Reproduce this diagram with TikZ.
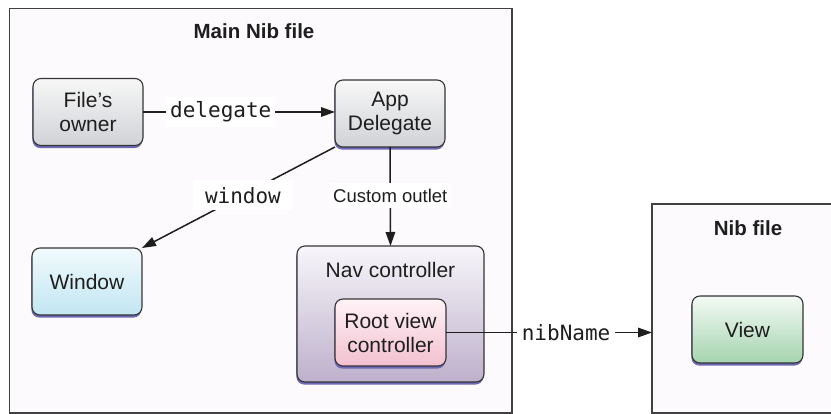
\documentclass[tikz,border=0pt]{standalone}
\usepackage{fontspec}
\setmainfont{Liberation Sans}
\newfontfamily\monof{DejaVu Sans Mono}
\usetikzlibrary{arrows.meta,shadows}
\definecolor{framefill}{HTML}{FCFAFC}
\definecolor{framedraw}{HTML}{404040}
\definecolor{bordc}{HTML}{353535}
\definecolor{txtc}{HTML}{1E1E1E}
\definecolor{shadc}{HTML}{6C68B5}
\definecolor{grayT}{HTML}{F7F7F7}
\definecolor{grayB}{HTML}{D0D2D6}
\definecolor{winT}{HTML}{F1FAFD}
\definecolor{winB}{HTML}{C2E6F2}
\definecolor{navT}{HTML}{F7F6FA}
\definecolor{navB}{HTML}{BEB0CC}
\definecolor{rootT}{HTML}{FEF3F6}
\definecolor{rootB}{HTML}{F3C0D0}
\definecolor{viewT}{HTML}{F3FAF4}
\definecolor{viewB}{HTML}{A5D4AF}
\begin{document}
\begin{tikzpicture}[x=1pt,y=-1pt,
  frame/.style={draw=framedraw, line width=1.4pt, fill=framefill, outer sep=0pt, inner sep=0pt},
  obj/.style={draw=bordc, line width=1.1pt, rounded corners=8pt, outer sep=0pt,
    minimum width=110pt, minimum height=67pt, align=center, text=txtc,
    font=\fontsize{21}{24}\selectfont,
    general shadow={fill=shadc, shadow xshift=-0.6pt, shadow yshift=-2.6pt}},
  title/.style={font=\bfseries\fontsize{20.5}{24}\selectfont, text=txtc},
  plain/.style={font=\fontsize{21}{24}\selectfont, text=txtc},
  conn/.style={line width=1.5pt, draw=txtc, -{Triangle[length=14pt,width=9.5pt]}},
  monolab/.style={fill=white, text=txtc, font=\monof\fontsize{21}{24}\selectfont, inner xsep=4pt, inner ysep=5pt},
  sanslab/.style={fill=white, text=txtc, font=\fontsize{18.5}{22}\selectfont, inner xsep=4pt, inner ysep=6pt}
]
\fill[white] (0,0) rectangle (831,414);
\useasboundingbox (0,0) rectangle (831,414);

% frames
\node[frame, minimum width=502.5pt, minimum height=404.5pt] (mainbox) at (260.75,210.75) {};
\node[frame, minimum width=181pt, minimum height=209pt] (nibbox) at (742.5,308.5) {};
\node[title] (maint) at (254,31) {Main Nib file};
\node[title] (nibt) at (748,228) {Nib file};

% objects
\node[obj, top color=grayT, bottom color=grayB] (owner) at (88,112) {File’s\\owner};
\node[obj, top color=grayT, bottom color=grayB] (appdel) at (390,113.5) {App\\Delegate};
\node[obj, top color=winT, bottom color=winB] (window) at (87,281.5) {Window};
\node[obj, top color=navT, bottom color=navB, minimum width=187pt, minimum height=136pt] (nav) at (390.5,314) {};
\node[plain] (navt) at (390.5,270) {Nav controller};
\node[obj, top color=rootT, bottom color=rootB, minimum width=111pt] (root) at (390.5,332.5) {Root view\\controller};
\node[obj, top color=viewT, bottom color=viewB, minimum width=111pt] (view) at (747.5,329.5) {View};

% connectors
\draw[conn] (owner.east |- 0,112) -- node[pos=0.405, monolab] (dlab) {delegate} (appdel.west |- 0,112);
\draw[conn] (appdel.south) -- node[pos=0.49, sanslab] (clab) {Custom outlet} (nav.north);
\draw[conn] (appdel.south west) -- node[pos=0.477, monolab, inner xsep=12pt, inner ysep=7pt] (wlab) {window} (window.north east);
\draw[conn] (root.east) -- node[pos=0.583, monolab, inner xsep=5pt] (nlab) {nibName} (root.east -| nibbox.west);
\end{tikzpicture}
\end{document}
